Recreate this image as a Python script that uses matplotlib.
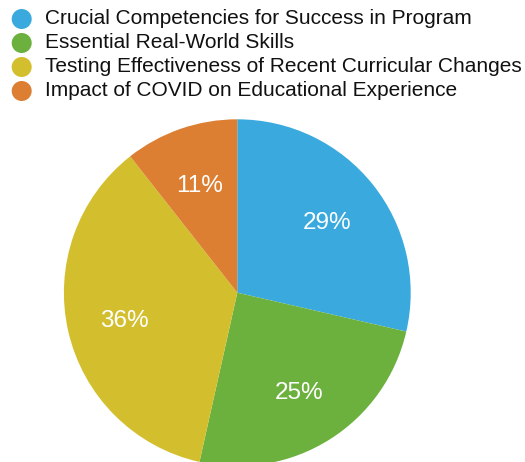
import matplotlib
matplotlib.use("Agg")
import matplotlib.pyplot as plt
from matplotlib.patches import Circle

categories = ["Crucial Competencies for Success in Program",
              "Essential Real-World Skills",
              "Testing Effectiveness of Recent Curricular Changes",
              "Impact of COVID on Educational Experience"]
values = [28.6, 24.9, 35.9, 10.6]
colors = ["#3aaade", "#6cb13d", "#d3bf2e", "#dd7f32"]

W, H = 525, 462
fig = plt.figure(figsize=(W / 100, H / 100), dpi=100)
plt.rcParams['font.family'] = ['Liberation Sans', 'DejaVu Sans']

cx, cy, r = 237.3, 292.7, 173.4
ax = fig.add_axes([(cx - r) / W, (H - cy - r) / H, 2 * r / W, 2 * r / H])
wedges, texts, autotexts = ax.pie(values, colors=colors, startangle=90, counterclock=False,
                                  radius=1, autopct='%.0f%%', pctdistance=0.665,
                                  wedgeprops=dict(linewidth=0),
                                  textprops=dict(color='white', fontsize=17.5))
for t in autotexts:
    t.set_va('center_baseline')
ax.set_xlim(-1, 1)
ax.set_ylim(-1, 1)
ax.set_aspect('equal')
ax.axis('off')

# legend drawn manually
lax = fig.add_axes([0, 0, 1, 1])
lax.set_xlim(0, W)
lax.set_ylim(H, 0)
lax.axis('off')
row_y = [19, 43, 67, 91]
for yy, lab, c in zip(row_y, categories, colors):
    lax.add_patch(Circle((21.7, yy), 10, color=c, lw=0))
    lax.text(45, yy, lab, fontsize=15, va='center', ha='left', color='#111111')

fig.savefig("out.png", dpi=100)
